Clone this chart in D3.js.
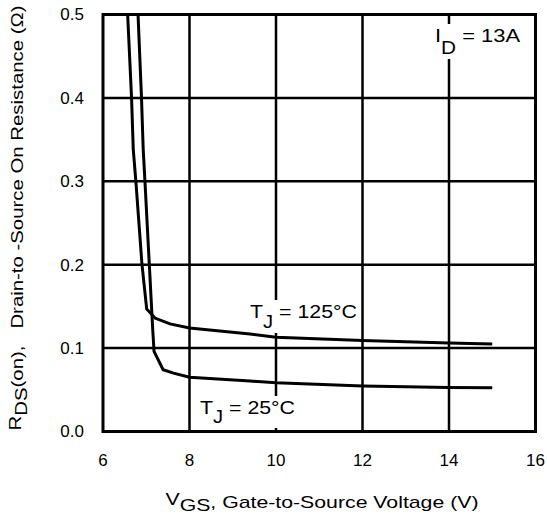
<!DOCTYPE html>
<html>
<head>
<meta charset="utf-8">
<script src="https://cdn.jsdelivr.net/npm/d3@7"></script>
<style>
  body { margin: 0; background: #fff; }
  svg { display: block; font-family: "Liberation Sans", Arial, sans-serif; }
</style>
</head>
<body>
<div id="chart"></div>
<script>
// values
var xTicks = [6, 8, 10, 12, 14, 16];
var yTicks = [0.0, 0.1, 0.2, 0.3, 0.4, 0.5];
var xGrid = [8, 10, 12, 14];
var yGrid = [0.1, 0.2, 0.3, 0.4];

var vgs125 = [6.57, 6.66, 6.70, 6.76, 6.90, 7.01, 7.20, 7.55, 8.0, 9.4, 10, 12, 14, 15];
var rds125 = [0.5, 0.4, 0.338, 0.300, 0.201, 0.147, 0.136, 0.129, 0.124, 0.117, 0.113, 0.109, 0.106, 0.105];
var vgs25 = [6.81, 6.89, 6.93, 6.97, 7.07, 7.15, 7.18, 7.39, 7.63, 8.0, 9.4, 10, 12, 14, 15];
var rds25 = [0.5, 0.4, 0.338, 0.300, 0.201, 0.122, 0.096, 0.074, 0.070, 0.065, 0.0605, 0.0585, 0.0546, 0.0528, 0.0525];

var width = 547, height = 518;
var plotL = 103, plotR = 535.5, plotT = 14.5, plotB = 431.5;

var svg = d3.select('#chart').append('svg')
    .attr('width', width)
    .attr('height', height);

var x = d3.scaleLinear().domain([6, 16]).range([plotL, plotR]);
var y = d3.scaleLinear().domain([0, 0.5]).range([plotB, plotT]);

// grid
svg.append('g').selectAll('line')
    .data(xGrid).enter().append('line')
    .attr('x1', function (d) { return x(d); })
    .attr('x2', function (d) { return x(d); })
    .attr('y1', plotT).attr('y2', plotB)
    .attr('stroke', '#000').attr('stroke-width', 2.5);
svg.append('g').selectAll('line')
    .data(yGrid).enter().append('line')
    .attr('y1', function (d) { return y(d); })
    .attr('y2', function (d) { return y(d); })
    .attr('x1', plotL).attr('x2', plotR)
    .attr('stroke', '#000').attr('stroke-width', 2.5);

// label layer, backgrounds punched into the grid
var bgLayer = svg.append('g');
var curveLayer = svg.append('g');
var labelLayer = svg.append('g');

function label(px, py, main, sub, rest, size, drop, len) {
    var t = labelLayer.append('text')
        .attr('x', px).attr('y', py)
        .attr('font-size', size)
        .attr('textLength', len)
        .attr('lengthAdjust', 'spacingAndGlyphs');
    t.append('tspan').text(main);
    t.append('tspan').attr('dy', drop).attr('font-size', size * 0.95).text(sub);
    t.append('tspan').attr('dy', -drop).text(rest);
    var b = t.node().getBBox();
    bgLayer.append('rect')
        .attr('x', b.x - 2).attr('y', b.y - 1)
        .attr('width', b.width + 4).attr('height', b.height + 2)
        .attr('fill', '#fff');
}

label(435, 42, 'I', 'D', ' = 13A', 19, 12, 85);
label(250, 318, 'T', 'J', ' = 125°C', 19, 10, 107);
label(200, 414, 'T', 'J', ' = 25°C', 19, 9, 95);

var line = d3.line()
    .x(function (d) { return x(d[0]); })
    .y(function (d) { return y(d[1]); });

curveLayer.append('path')
    .attr('d', line(d3.zip(vgs125, rds125)))
    .attr('fill', 'none').attr('stroke', '#000').attr('stroke-width', 3);
curveLayer.append('path')
    .attr('d', line(d3.zip(vgs25, rds25)))
    .attr('fill', 'none').attr('stroke', '#000').attr('stroke-width', 3);

// frame
svg.append('rect')
    .attr('x', plotL).attr('y', plotT)
    .attr('width', plotR - plotL).attr('height', plotB - plotT)
    .attr('fill', 'none').attr('stroke', '#000').attr('stroke-width', 3);

// tick labels
svg.append('g').selectAll('text')
    .data(xTicks).enter().append('text')
    .attr('x', function (d) { return x(d); })
    .attr('y', 466)
    .attr('text-anchor', 'middle')
    .attr('font-size', 17)
    .text(function (d) { return d; });
svg.append('g').selectAll('text')
    .data(yTicks).enter().append('text')
    .attr('x', 84)
    .attr('y', function (d) { return y(d); })
    .attr('dy', '0.35em')
    .attr('text-anchor', 'end')
    .attr('font-size', 17)
    .text(function (d) { return d3.format('.1f')(d); });

// axis titles
var xt = svg.append('text')
    .attr('x', 322).attr('y', 508)
    .attr('text-anchor', 'middle')
    .attr('font-size', 17)
    .attr('textLength', 313)
    .attr('lengthAdjust', 'spacingAndGlyphs');
xt.append('tspan').attr('dy', -3).text('V');
xt.append('tspan').attr('dy', 6).text('GS');
xt.append('tspan').attr('dy', -3).text(', Gate-to-Source Voltage (V)');

var yt = svg.append('text')
    .attr('transform', 'translate(23,218) rotate(-90)')
    .attr('text-anchor', 'middle')
    .attr('font-size', 16)
    .attr('textLength', 425)
    .attr('lengthAdjust', 'spacingAndGlyphs');
yt.append('tspan').attr('dy', -2).text('R');
yt.append('tspan').attr('dy', 6).text('DS');
yt.append('tspan').attr('dy', -4).text('(on),\u00A0\u00A0 Drain-to -Source On Resistance (Ω)');
</script>
</body>
</html>
